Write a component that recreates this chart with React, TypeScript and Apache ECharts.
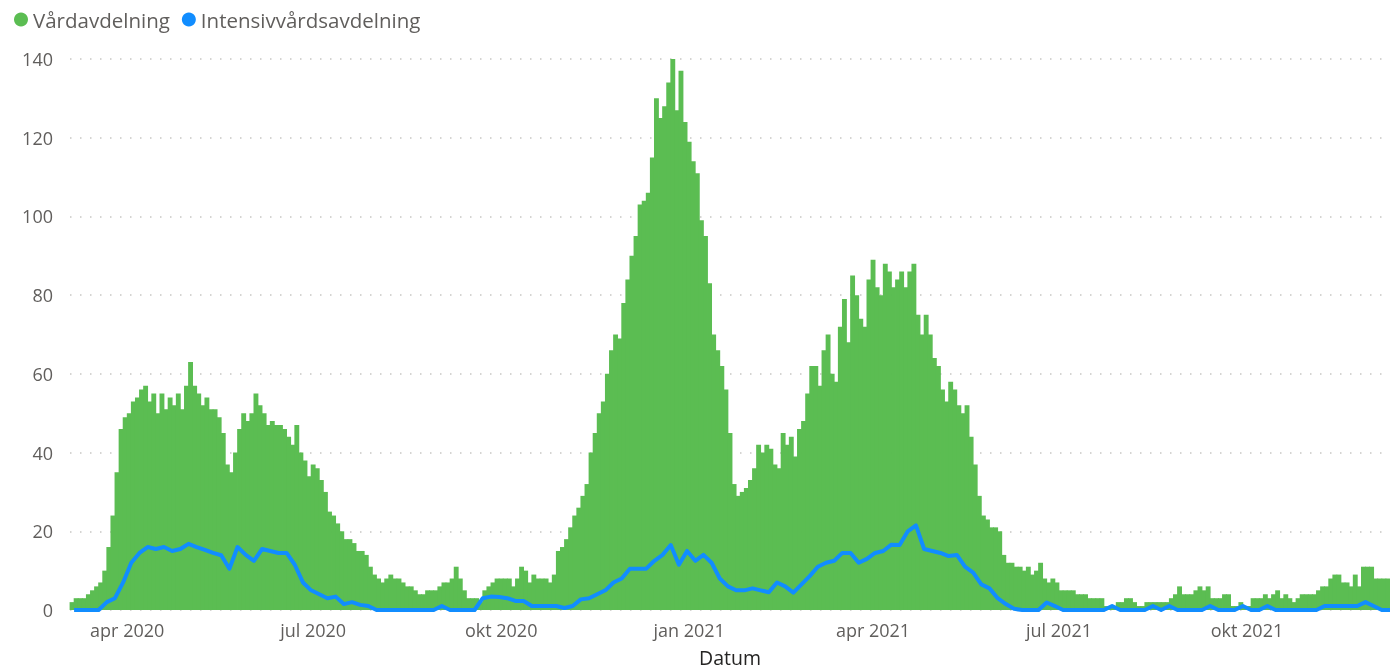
import React, { useEffect, useRef } from "react";
import * as echarts from "echarts";

// ---- data ----
const startDate = "2020-03-04"; // first day shown
const endDate = "2021-12-10"; // last day shown
const binDays = 2; // each green bar covers 2 days
const icuStepDays = 4; // blue line sampled every 4 days

const seriesNames = ["Vårdavdelning", "Intensivvårdsavdelning"];

// Vårdavdelning, 2-day bins from 2020-03-04
const vardavdelning = [
  2, 3, 3, 3, 4, 5, 6, 7, 10, 16,
  24, 35, 46, 49, 50, 53, 54, 56, 57, 53,
  55, 50, 55, 51, 54, 52, 55, 51, 57, 63,
  57, 55, 52, 54, 51, 51, 49, 45, 37, 35,
  40, 46, 50, 48, 50, 55, 52, 50, 47, 48,
  47, 47, 46, 44, 42, 47, 40, 38, 34, 37,
  36, 33, 30, 25, 24, 22, 20, 18, 18, 17,
  15, 15, 14, 11, 9, 8, 7, 8, 9, 8,
  8, 7, 6, 6, 5, 4, 4, 5, 5, 5,
  6, 7, 7, 8, 11, 8, 5, 3, 3, 3,
  2, 5, 6, 7, 8, 8, 8, 8, 6, 8,
  11, 10, 7, 9, 8, 8, 8, 7, 9, 15,
  16, 18, 21, 24, 26, 29, 32, 40, 45, 50,
  53, 60, 66, 70, 69, 78, 84, 90, 95, 103,
  104, 106, 115, 130, 125, 128, 134, 140, 127, 137,
  124, 119, 114, 111, 99, 95, 83, 70, 66, 62,
  56, 45, 32, 29, 30, 31, 33, 36, 42, 40,
  42, 41, 37, 36, 45, 42, 44, 39, 46, 48,
  55, 62, 62, 57, 66, 70, 60, 58, 72, 79,
  68, 85, 80, 74, 72, 84, 89, 82, 80, 88,
  86, 82, 84, 86, 82, 86, 88, 75, 70, 75,
  70, 64, 62, 56, 53, 58, 56, 52, 50, 52,
  44, 37, 29, 24, 23, 21, 21, 20, 14, 12,
  12, 11, 11, 10, 11, 9, 10, 12, 8, 7,
  8, 7, 5, 5, 5, 5, 4, 4, 4, 3,
  3, 3, 3, 1, 1, 1, 2, 2, 3, 3, 2,
  1, 1, 2, 2, 2,
  2, 2, 2, 3, 4, 6, 4, 4, 4, 5,
  6, 5, 6, 3, 3, 3, 4, 4, 1, 1,
  2, 1, 1, 3, 3, 3, 4, 3, 4, 5,
  3, 4, 3, 2, 3, 4, 4, 4, 4, 5,
  6, 6, 8, 9, 9, 7, 7, 6, 9, 6,
  11, 11, 11, 8, 8, 8, 8,
];

// Intensivvårdsavdelning, every 4 days from 2020-03-06
const intensivvard = [
  0, 0, 0, 0, 2, 3, 7, 12, 14.5, 16,
  15.5, 16, 15, 15.5, 16.8, 16, 15.3, 14.5, 13.9, 10.5,
  16, 14, 12.5, 15.5, 15, 14.5, 14.5, 11.5, 7, 5,
  4, 3, 3.4, 1.5, 2, 1.3, 1, 0, 0, 0,
  0, 0, 0, 0, 0, 1, 0, 0, 0, 0,
  3, 3.4, 3.3, 3, 2.3, 2.3, 1, 1, 1, 1,
  0.5, 1, 2.7, 3, 4, 5, 7, 8, 10.5, 10.5,
  10.5, 12.5, 14, 16.5, 11.5, 15, 12.5, 14, 12, 8,
  6, 5, 5, 5.5, 5, 4.5, 7, 6, 4.4, 6.5,
  8.6, 11, 12, 12.5, 14.5, 14.5, 12, 13, 14.5, 15,
  16.6, 16.5, 20, 21.5, 15.5, 15, 14.5, 13.7, 14, 11,
  9.5, 6.5, 5.5, 3, 1.5, 0.3, 0, 0, 0, 1.9,
  1, 0, 0, 0, 0, 0, 0, 1, 0, 0,
  0, 0, 1, 0, 1, 0, 0, 0, 0, 1,
  0, 0, 0, 1, 0, 0, 1, 0, 0, 0,
  0, 0, 0, 1, 1, 1, 1, 1, 2, 1,
  0, 0,
];

const tickDates = [
  "2020-04-01",
  "2020-07-01",
  "2020-10-01",
  "2021-01-01",
  "2021-04-01",
  "2021-07-01",
  "2021-10-01",
];
const tickLabels = [
  "apr 2020",
  "jul 2020",
  "okt 2020",
  "jan 2021",
  "apr 2021",
  "jul 2021",
  "okt 2021",
];

const DAY = 24 * 3600 * 1000;

export default function App() {
  const ref = useRef<HTMLDivElement>(null);

  useEffect(() => {
    document.body.style.margin = "0";
    document.body.style.overflow = "hidden";
    if (!ref.current) return;
    const chart = echarts.init(ref.current, undefined, { renderer: "svg" });

    const start = Date.parse(startDate);
    const end = Date.parse(endDate);
    const gridLeft = 70;
    const gridRight = 0;
    const gridWidth = 1390 - gridLeft - gridRight;
    const totalDays = (end - start) / DAY;
    const barW = (gridWidth / totalDays) * binDays + 0.8;

    const greenData = vardavdelning.map((v, i) => [
      start + (i * binDays + binDays / 2) * DAY,
      v,
    ]);
    const blueData = intensivvard.map((v, j) => [
      start + (j * icuStepDays + icuStepDays / 2) * DAY,
      v,
    ]);
    const tickValues = tickDates.map((d) => Date.parse(d));

    const font = "'Open Sans', 'Segoe UI', sans-serif";

    chart.setOption({
      animation: false,
      textStyle: { fontFamily: font },
      legend: {
        left: 9,
        top: 4,
        icon: "circle",
        itemWidth: 14,
        itemHeight: 14,
        itemGap: 12,
        textStyle: { color: "#605E5C", fontSize: 20.5, fontFamily: font },
        data: seriesNames,
      },
      grid: {
        left: gridLeft,
        right: gridRight,
        top: 59,
        bottom: 60,
        outerBoundsMode: "none",
        containLabel: false,
      },
      xAxis: {
        type: "value",
        min: start,
        max: end,
        name: "Datum",
        nameLocation: "middle",
        nameGap: 37,
        nameTextStyle: {
          color: "#252423",
          fontSize: 19.5,
          lineHeight: 20,
          fontFamily: font,
        },
        axisLine: { show: false },
        axisTick: { show: false },
        splitLine: { show: false },
        axisLabel: {
          customValues: tickValues,
          color: "#605E5C",
          fontSize: 18,
          fontFamily: font,
          margin: 11,
          formatter: (val: number) => {
            let best = 0;
            let bestD = Infinity;
            tickValues.forEach((t, k) => {
              const d = Math.abs(t - val);
              if (d < bestD) {
                bestD = d;
                best = k;
              }
            });
            return tickLabels[best];
          },
        },
      },
      yAxis: {
        type: "value",
        min: 0,
        max: 140,
        interval: 20,
        axisLine: { show: false },
        axisTick: { show: false },
        axisLabel: {
          color: "#605E5C",
          fontSize: 18,
          fontFamily: font,
          margin: 17,
        },
        splitLine: {
          show: true,
          lineStyle: { color: "#C8C6C4", width: 1.5, type: [1.5, 8.5] },
        },
      },
      series: [
        {
          name: seriesNames[0],
          type: "bar",
          data: greenData,
          barWidth: barW,
          itemStyle: { color: "#5BBD52" },
          z: 2,
        },
        {
          name: seriesNames[1],
          type: "line",
          data: blueData,
          symbol: "none",
          lineStyle: { color: "#118DFF", width: 4, join: "round" },
          itemStyle: { color: "#118DFF" },
          z: 3,
        },
      ],
    });

    return () => {
      chart.dispose();
    };
  }, []);

  return (
    <div
      ref={ref}
      style={{ position: "fixed", left: 0, top: 0, width: 1390, height: 670 }}
    />
  );
}
